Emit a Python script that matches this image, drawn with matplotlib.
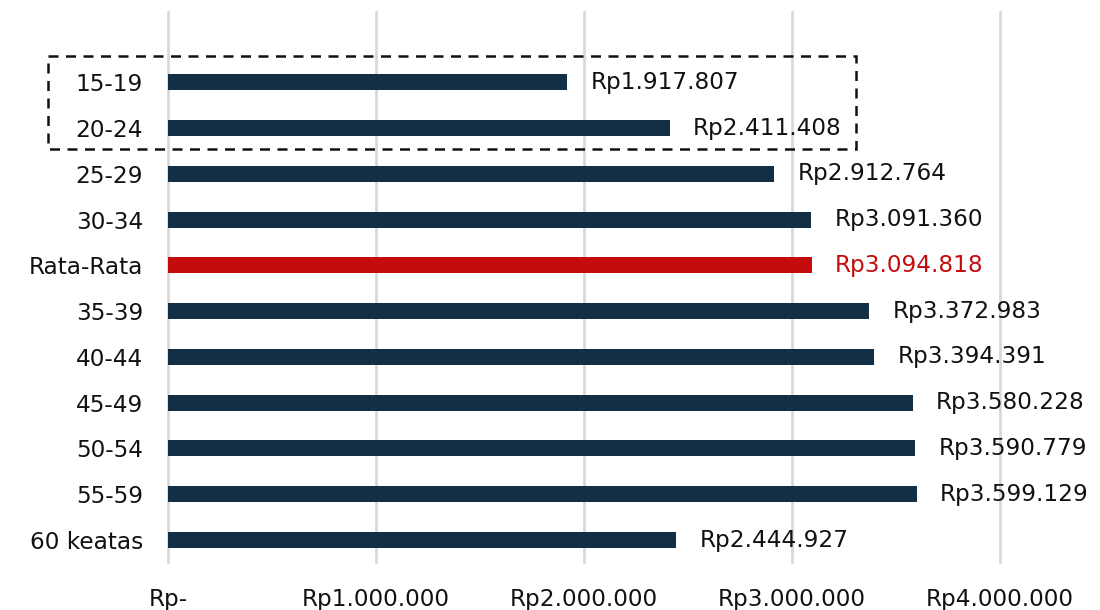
import matplotlib.pyplot as plt
from matplotlib.patches import Rectangle

categories = ['15-19', '20-24', '25-29', '30-34', 'Rata-Rata', '35-39',
              '40-44', '45-49', '50-54', '55-59', '60 keatas']
values = [1917807, 2411408, 2912764, 3091360, 3094818, 3372983,
          3394391, 3580228, 3590779, 3599129, 2444927]
value_labels = ['Rp1.917.807', 'Rp2.411.408', 'Rp2.912.764', 'Rp3.091.360',
                'Rp3.094.818', 'Rp3.372.983', 'Rp3.394.391', 'Rp3.580.228',
                'Rp3.590.779', 'Rp3.599.129', 'Rp2.444.927']
xticks = [0, 1000000, 2000000, 3000000, 4000000]
xtick_labels = ['Rp-', 'Rp1.000.000', 'Rp2.000.000', 'Rp3.000.000', 'Rp4.000.000']
highlight = 'Rata-Rata'

navy = '#132f45'
red = '#c40c0c'
txt = '#111111'
plt.rcParams['font.family'] = ['DejaVu Sans']

fig = plt.figure(figsize=(11, 6.1), dpi=100)
ax = fig.add_axes([0.1527, 0.0787, 0.909 - 0.1527, 0.980 - 0.0787])

ypos = list(range(len(categories)))
colors = [red if c == highlight else navy for c in categories]
ax.barh(ypos, values, height=0.35, color=colors, zorder=3)

for y, v, lab, c in zip(ypos, values, value_labels, colors):
    ax.annotate(lab, (v, y), xytext=(17, 0), textcoords='offset points',
                ha='left', va='center', fontsize=16.7,
                color=red if c == red else txt)

ax.set_xlim(0, 4000000)
ax.set_ylim(10.48, -1.53)
ax.set_yticks(ypos)
ax.set_yticklabels(categories, fontsize=16.7, color=txt)
ax.set_xticks(xticks)
ax.set_xticklabels(xtick_labels, fontsize=16.7, color=txt)
ax.tick_params(axis='y', length=0, pad=18)
ax.tick_params(axis='x', length=0, pad=19)
ax.xaxis.grid(True, color='#d9d9d9', linewidth=2, zorder=0)
for gl in ax.get_xgridlines():
    gl.set_clip_on(False)
ax.set_axisbelow(True)
for s in ax.spines.values():
    s.set_visible(False)

# dashed box round the two youngest groups
box = Rectangle((-577000, -0.57), 3308000 + 577000, 2.03, fill=False,
                linestyle=(0, (4, 3)), linewidth=1.8, edgecolor=txt,
                clip_on=False, zorder=4)
ax.add_patch(box)

fig.savefig('out.png')
